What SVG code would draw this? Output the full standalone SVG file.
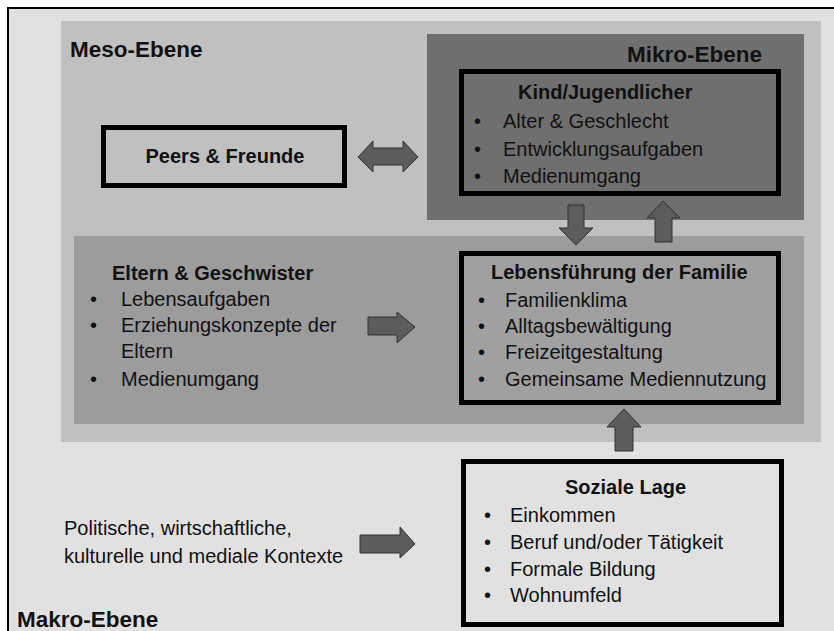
<svg xmlns="http://www.w3.org/2000/svg" width="834" height="631" viewBox="0 0 834 631">
<style>
text{font-family:"Liberation Sans",Arial,sans-serif;fill:#111}
.lvl{font-size:22.5px;font-weight:bold}
.ttl{font-size:20px;font-weight:bold}
.itm{font-size:20px}
.box{stroke:#000;stroke-width:5}
.arr{fill:#5c5c5c;stroke:#333;stroke-width:1}
</style>
<rect width="834" height="631" fill="#fff"/>
<g id="makro">
<rect x="8" y="8" width="900" height="700" fill="#e1e1e1" stroke="#000" stroke-width="2"/>
<text class="lvl" x="17" y="627">Makro-Ebene</text>
<text class="itm" x="64" y="535">Politische, wirtschaftliche,</text>
<text class="itm" x="64" y="563">kulturelle und mediale Kontexte</text>
</g>
<g id="meso">
<rect x="61" y="21" width="760" height="421" fill="#c0c0c0"/>
<text class="lvl" x="70" y="57">Meso-Ebene</text>
</g>
<g id="mikro">
<rect x="427" y="34" width="377" height="186" fill="#6f6f6f"/>
<text class="lvl" x="627" y="62">Mikro-Ebene</text>
</g>
<g id="eltern">
<rect x="74" y="236" width="730" height="188" fill="#9c9c9c"/>
<text class="ttl" x="112" y="280">Eltern &amp; Geschwister</text>
<text class="itm" x="90" y="306">•</text><text class="itm" x="121" y="306">Lebensaufgaben</text>
<text class="itm" x="90" y="332">•</text><text class="itm" x="121" y="332">Erziehungskonzepte der</text>
<text class="itm" x="121" y="358">Eltern</text>
<text class="itm" x="90" y="386">•</text><text class="itm" x="121" y="386">Medienumgang</text>
</g>
<g id="peers">
<rect class="box" x="103.5" y="127.5" width="241" height="58" fill="#c0c0c0"/>
<text class="ttl" x="225" y="163" text-anchor="middle">Peers &amp; Freunde</text>
</g>
<g id="kind">
<rect class="box" x="461.5" y="71.5" width="317" height="122" fill="#6f6f6f"/>
<text class="ttl" x="518" y="99">Kind/Jugendlicher</text>
<text class="itm" x="474" y="128">•</text><text class="itm" x="503" y="128">Alter &amp; Geschlecht</text>
<text class="itm" x="474" y="156">•</text><text class="itm" x="503" y="156">Entwicklungsaufgaben</text>
<text class="itm" x="474" y="183">•</text><text class="itm" x="503" y="183">Medienumgang</text>
</g>
<g id="familie">
<rect class="box" x="461.5" y="253.5" width="317" height="149" fill="#a0a0a0"/>
<text class="ttl" x="491" y="279">Lebensführung der Familie</text>
<text class="itm" x="478" y="307">•</text><text class="itm" x="505" y="307">Familienklima</text>
<text class="itm" x="478" y="333">•</text><text class="itm" x="505" y="333">Alltagsbewältigung</text>
<text class="itm" x="478" y="359">•</text><text class="itm" x="505" y="359">Freizeitgestaltung</text>
<text class="itm" x="478" y="386">•</text><text class="itm" x="505" y="386">Gemeinsame Mediennutzung</text>
</g>
<g id="soziale">
<rect class="box" x="463.5" y="461.5" width="318" height="163" fill="#e1e1e1"/>
<text class="ttl" x="565" y="494">Soziale Lage</text>
<text class="itm" x="484" y="522">•</text><text class="itm" x="510" y="522">Einkommen</text>
<text class="itm" x="484" y="549">•</text><text class="itm" x="510" y="549">Beruf und/oder Tätigkeit</text>
<text class="itm" x="484" y="576">•</text><text class="itm" x="510" y="576">Formale Bildung</text>
<text class="itm" x="484" y="602">•</text><text class="itm" x="510" y="602">Wohnumfeld</text>
</g>
<g id="connectors">
<polygon class="arr" points="358,157 373,141 373,148 403,148 403,141 418,157 403,172 403,165 373,165 373,172"/>
<polygon class="arr" points="568,205 584,205 584,228 593,228 576,245 559,228 568,228"/>
<polygon class="arr" points="655,242 672,242 672,218 680,218 663,201 647,218 655,218"/>
<polygon class="arr" points="615,451 633,451 633,427 641,427 624,409 607,427 615,427"/>
<polygon class="arr" points="368,317 397,317 397,312 415,327 397,343 397,335 368,335"/>
<polygon class="arr" points="360,535 400,535 400,527 415,544 400,558 400,553 360,553"/>
</g>
</svg>
